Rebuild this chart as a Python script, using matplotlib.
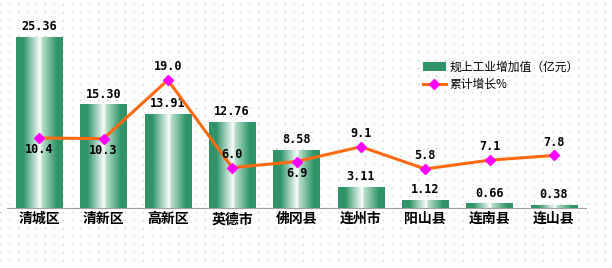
import numpy as np
import matplotlib.pyplot as plt
from matplotlib.colors import LinearSegmentedColormap
from matplotlib.lines import Line2D
from matplotlib.patches import Rectangle

plt.rcParams['font.family'] = ['Noto Sans CJK SC', 'DejaVu Sans']

# data
regions = ['清城区', '清新区', '高新区', '英德市', '佛冈县', '连州市', '阳山县', '连南县', '连山县']
value_added = [25.36, 15.30, 13.91, 12.76, 8.58, 3.11, 1.12, 0.66, 0.38]
growth = [10.4, 10.3, 19.0, 6.0, 6.9, 9.1, 5.8, 7.1, 7.8]
growth_below = [True, True, False, False, True, False, False, False, False]

W, H = 612, 268
fig = plt.figure(figsize=(W / 100, H / 100), dpi=100)

# dotted background
bg = fig.add_axes([0, 0, 1, 1])
bg.set_xlim(0, W)
bg.set_ylim(H, 0)
bg.axis('off')
for yy in range(4, H, 8):
    bg.plot([0, W], [yy, yy], color='#b8b8b8', lw=0.8, ls=(0, (1, 7)))

ax = fig.add_axes([7 / W, 60 / H, 579 / W, 202 / H])
ax.patch.set_alpha(0)

green = '#2f9468'
cmap = LinearSegmentedColormap.from_list('bar', [
    (0.0, green), (0.15, green), (0.52, '#ffffff'), (0.56, '#b8e0c8'), (0.88, green), (1.0, green)])
grad = np.linspace(0, 1, 64).reshape(1, -1)

bw = 0.72
x = np.arange(len(regions))
for i, v in enumerate(value_added):
    ax.imshow(grad, cmap=cmap, aspect='auto', extent=(i - bw / 2, i + bw / 2, 0, v),
              interpolation='bilinear', zorder=2)
    ax.text(i, v + 0.6, f'{v:.2f}', ha='center', va='bottom', fontsize=8.5,
            family='DejaVu Sans Mono', fontweight='bold')
ax.set_xlim(-0.5, len(regions) - 0.5)
ax.set_ylim(0, 30)

ax.plot(x, growth, color='#ff6a10', lw=2.2, zorder=3)
ax.plot(x, growth, ls='none', marker='D', ms=5.5, color='#ff00ff', zorder=4)
for i, g in enumerate(growth):
    if growth_below[i]:
        ax.text(i, g - 0.8, f'{g:.1f}', ha='center', va='top', fontsize=8.5,
                family='DejaVu Sans Mono', fontweight='bold', zorder=5)
    else:
        ax.text(i, g + 1.0, f'{g:.1f}', ha='center', va='bottom', fontsize=8.5,
                family='DejaVu Sans Mono', fontweight='bold', zorder=5)

for s in ['top', 'right', 'left']:
    ax.spines[s].set_visible(False)
ax.spines['bottom'].set_color('#a0a0a0')
ax.set_yticks([])
ax.set_xticks(x)
ax.set_xticklabels(regions, fontsize=10, fontweight='bold')
ax.tick_params(axis='x', length=0, pad=3)

handles = [Rectangle((0, 0), 1, 1, facecolor=green, edgecolor='none'),
           Line2D([], [], color='#ff6a10', lw=2.2, marker='D', ms=5, mfc='#ff00ff', mec='#ff00ff')]
fig.legend(handles, ['规上工业增加值（亿元）', '累计增长%'], loc='upper left',
           bbox_to_anchor=(412 / W, 1 - 50 / H), frameon=False, fontsize=8.5,
           handlelength=2.0, handletextpad=0.3, labelspacing=0.35)

fig.savefig('out.png', dpi=100)
